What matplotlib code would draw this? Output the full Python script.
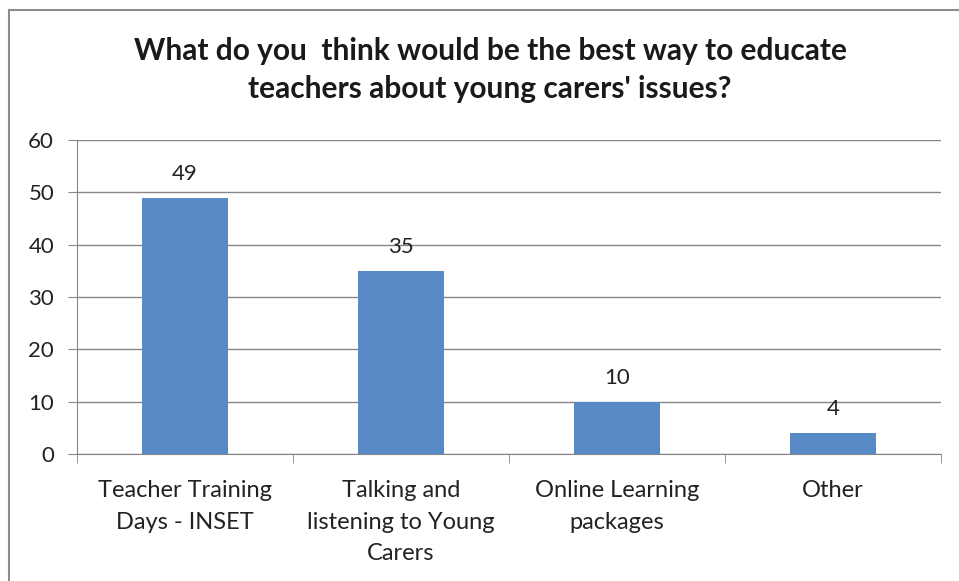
import matplotlib.pyplot as plt
from matplotlib.patches import Rectangle
import numpy as np

# chart data
categories = ["Teacher Training\nDays - INSET", "Talking and\nlistening to Young\nCarers",
              "Online Learning\npackages", "Other"]
counts = [49, 35, 10, 4]
y_ticks = [0, 10, 20, 30, 40, 50, 60]

BAR_COLOR = "#588BC5"
GRID_COLOR = "#868686"
FONT = "Lato"
TXT = "#222222"

fig = plt.figure(figsize=(9.59, 5.81), dpi=100)
ax = fig.add_axes([77 / 959, 1 - 454 / 581, 864 / 959, 314 / 581])

x = np.arange(len(categories))
ax.bar(x, counts, width=0.4, color=BAR_COLOR, zorder=3)
for xi, v in zip(x, counts):
    ax.text(xi, v + 2.6, str(v), ha="center", va="bottom", fontsize=16, family=FONT, color=TXT)

ax.set_xlim(-0.5, len(categories) - 0.5)
ax.set_ylim(0, 60)
ax.set_yticks(y_ticks)
ax.yaxis.grid(True, color=GRID_COLOR, linewidth=1, zorder=0)
ax.set_xticks(x)
ax.set_xticklabels(categories, fontsize=17, family=FONT, color=TXT, linespacing=1.62)
ax.set_xticks(np.arange(-0.5, len(categories)), minor=True)
ax.tick_params(axis="x", which="major", length=0, pad=19)
ax.tick_params(axis="x", which="minor", length=6.5, color=GRID_COLOR)
ax.tick_params(axis="y", length=6.5, color=GRID_COLOR, pad=10)
for lab in ax.get_yticklabels():
    lab.set_fontsize(16)
    lab.set_family(FONT)
    lab.set_color(TXT)
for s in ["top", "right"]:
    ax.spines[s].set_visible(False)
for s in ["left", "bottom"]:
    ax.spines[s].set_color(GRID_COLOR)

fig.text(490 / 959, 1 - 70 / 581,
         "What do you  think would be the best way to educate\nteachers about young carers' issues?",
         ha="center", va="center", fontsize=21.5, fontweight="bold", family=FONT,
         linespacing=1.45, color="#1a1a1a")

# outer chart border
fig.patches.append(Rectangle((9 / 959, -0.1), 1.2, 1.1 - 10 / 581, transform=fig.transFigure,
                             fill=False, edgecolor="#8c8c8c", linewidth=1.5))

fig.savefig("out.png", dpi=100)
